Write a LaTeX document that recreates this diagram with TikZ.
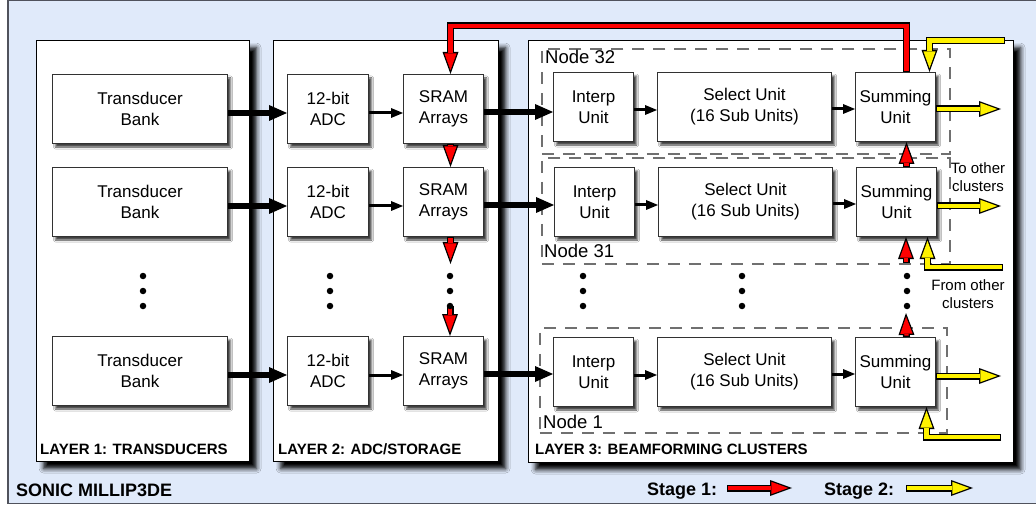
\documentclass[tikz,border=0pt]{standalone}
\usepackage{fontspec}
\setmainfont{Liberation Sans}
\usetikzlibrary{arrows.meta,calc,shadows.blur}
\definecolor{panelbg}{RGB}{224,234,250}
\definecolor{panelline}{RGB}{80,82,92}
\definecolor{boxline}{RGB}{50,50,50}
\definecolor{nodedash}{RGB}{112,112,112}
\tikzset{
  unitbox/.style={draw=boxline, fill=white, line width=1pt, inner sep=0pt, align=center,
    anchor=north west, font=\fontsize{17}{21}\selectfont,
    blur shadow={shadow xshift=3pt, shadow yshift=-3.5pt, shadow blur radius=2pt, shadow opacity=75}},
  layerbox/.style={draw=black, fill=white, line width=1.2pt, inner sep=0pt, anchor=north west,
    blur shadow={shadow xshift=7pt, shadow yshift=-7pt, shadow blur radius=4.5pt, shadow opacity=100}},
  nodeframe/.style={draw=nodedash, line width=1.6pt, dash pattern=on 12pt off 9pt,
    inner sep=0pt, anchor=north west},
  layerlabel/.style={font=\fontsize{15}{17}\selectfont\bfseries, anchor=base west, inner sep=0pt},
  nodelabel/.style={font=\fontsize{18.5}{21}\selectfont, anchor=base west, inner sep=0pt},
  sidenote/.style={font=\fontsize{15}{18}\selectfont, align=center, inner sep=0pt},
  titlelabel/.style={font=\fontsize{18}{21}\selectfont\bfseries, anchor=base west, inner sep=0pt},
  ellipsisdot/.style={circle, fill=black, inner sep=0pt, minimum size=6.5pt},
  busarrow/.style={line width=6pt, -{Triangle[length=18pt,width=16pt,line width=0pt]}},
  linkarrow/.style={line width=3pt, -{Triangle[length=12pt,width=10pt,line width=0pt]}},
  fatarrow/.style={
    preaction={draw=black, line width=7pt, shorten >=0pt, shorten <=0pt,
      -{Triangle[length=22pt,width=16pt,line width=0pt]}},
    draw=#1, line width=4.4pt, shorten >=3.8pt, shorten <=1.3pt,
    -{Triangle[length=16.9pt,width=12.3pt,line width=0pt]}},
}
\begin{document}
\begin{tikzpicture}[x=1pt,y=-1pt]
\useasboundingbox (0,0) rectangle (1036,505);
\fill[white] (0,0) rectangle (1036,505);
\draw[panelline, fill=panelbg, line width=1.2pt] (8,0.6) rectangle (1042,503.4);

% the three layers
\node[layerbox, minimum width=213, minimum height=421] (layer1) at (36,40) {};
\node[layerbox, minimum width=225, minimum height=421] (layer2) at (273,40) {};
\node[layerbox, minimum width=485, minimum height=422] (layer3) at (528,40) {};

% dashed node frames of layer 3
\node[nodeframe, minimum width=408, minimum height=105.5] (n32) at (541,48) {};
\node[nodeframe, minimum width=408, minimum height=105.5] (n31) at (541,157.5) {};
\node[nodeframe, minimum width=407, minimum height=105] (n1) at (539,327) {};

% layer 1: transducers
\node[unitbox, minimum width=175, minimum height=69] (tb1) at (52,74) {Transducer\\Bank};
\node[unitbox, minimum width=175, minimum height=69] (tb2) at (52,167) {Transducer\\Bank};
\node[unitbox, minimum width=175, minimum height=69] (tb3) at (52,336) {Transducer\\Bank};

% layer 2: converters and storage
\node[unitbox, minimum width=81, minimum height=69] (adc1) at (287,74) {12-bit\\ADC};
\node[unitbox, minimum width=81, minimum height=69] (adc2) at (287,167) {12-bit\\ADC};
\node[unitbox, minimum width=81, minimum height=69] (adc3) at (287,336) {12-bit\\ADC};
\node[unitbox, minimum width=80, minimum height=69] (sram1) at (403,74) {SRAM\\Arrays};
\node[unitbox, minimum width=80, minimum height=69] (sram2) at (403,167) {SRAM\\Arrays};
\node[unitbox, minimum width=80, minimum height=69] (sram3) at (403,336) {SRAM\\Arrays};

% layer 3: beamforming nodes
\node[unitbox, minimum width=80, minimum height=69] (int1) at (553,72) {Interp\\Unit};
\node[unitbox, minimum width=80, minimum height=69] (int2) at (554,167) {Interp\\Unit};
\node[unitbox, minimum width=80, minimum height=69] (int3) at (553,337) {Interp\\Unit};
\node[unitbox, minimum width=174, minimum height=69] (sel1) at (657,72) {Select Unit\\(16 Sub Units)};
\node[unitbox, minimum width=174, minimum height=69] (sel2) at (658,167) {Select Unit\\(16 Sub Units)};
\node[unitbox, minimum width=174, minimum height=69] (sel3) at (657,337) {Select Unit\\(16 Sub Units)};
\node[unitbox, minimum width=80, minimum height=69] (sum1) at (855,72) {Summing\\Unit};
\node[unitbox, minimum width=80, minimum height=69] (sum2) at (856,167) {Summing\\Unit};
\node[unitbox, minimum width=80, minimum height=69] (sum3) at (855,337) {Summing\\Unit};

% data path arrows
\foreach \r in {1,2,3}{
  \draw[busarrow] ([yshift=-4pt]tb\r.east) -- ([yshift=-4pt]adc\r.west);
  \draw[linkarrow] ([yshift=-4pt]adc\r.east) -- ([yshift=-4pt]sram\r.west);
  \draw[busarrow] ([yshift=-3pt]sram\r.east) -- ([yshift=-3pt]sram\r.east -| int\r.west);
  \draw[linkarrow] ([yshift=-3pt]int\r.east) -- ([yshift=-3pt]int\r.east -| sel\r.west);
  \draw[linkarrow] ([yshift=-2pt]sel\r.east) -- ([yshift=-2pt]sel\r.east -| sum\r.west);
}

% stage 1: partial sums travel up the nodes and back to the SRAM arrays
\coordinate (rx) at ($(sum1.north)+(11,0)$);
\coordinate (rt) at ($(sram1.north)+(7,0)$);
\coordinate (srdown) at ($(sram2.south -| rt)+(0,27)$);
\coordinate (srup) at (450,306);
\coordinate (sumup31) at (906,263);
\coordinate (sumup1) at (906,313);
\draw[fatarrow=red] (sum1.north -| rx) -- ++(0,-46) -| (rt);
\draw[fatarrow=red] (sram1.south -| rt) -- (sram2.north -| rt);
\draw[fatarrow=red] (sram2.south -| rt) -- (srdown);
\draw[fatarrow=red] (srup) -- (sram3.north -| srup);
\draw[fatarrow=red] (sum2.north -| rx) -- (sum1.south -| rx);
\draw[fatarrow=red] (sumup31) -- (sum2.south -| sumup31);
\draw[fatarrow=red] (sum3.north -| rx) -- (sumup1);

% stage 2: sums exchanged with the other clusters
\coordinate (yin1) at (1005,40.5);
\coordinate (yx1) at ($(sum1.north)+(34,0)$);
\coordinate (yin2) at (1003,267);
\coordinate (yx2) at ($(sum2.south)+(31,0)$);
\coordinate (yin3) at (1001,437);
\coordinate (yx3) at ($(sum3.south)+(31,0)$);
\coordinate (yout1) at (1001,109);
\coordinate (yout2) at (1001,206);
\coordinate (yout3) at (1001,376);
\draw[fatarrow=yellow] (yin1) -| (sum1.north -| yx1);
\draw[fatarrow=yellow] (yin2) -| (yx2);
\draw[fatarrow=yellow] (yin3) -| (yx3);
\draw[fatarrow=yellow] (sum1.east |- yout1) -- (yout1);
\draw[fatarrow=yellow] (sum2.east |- yout2) -- (yout2);
\draw[fatarrow=yellow] (sum3.east |- yout3) -- (yout3);

% vertical ellipses
\foreach \cx/\nm in {143/a,330/b,450/c,583/d,742/e,907/f}{
  \foreach \cy/\k in {276/1,291/2,306/3}{
    \node[ellipsisdot] (dot\nm\k) at (\cx,\cy) {};
  }
}

% labels
\node[nodelabel] (lab32) at (545,64) {Node 32};
\node[nodelabel] (lab31) at (544,258) {Node 31};
\node[nodelabel] (lab1) at (543,428) {Node 1};
\node[sidenote] (toother) at (978,177) {To other\\clusters};
\node[sidenote] (fromother) at (968,294) {From other\\clusters};
\node[layerlabel] (lay1) at (40,454) {LAYER 1: TRANSDUCERS};
\node[layerlabel] (lay2) at (278,454) {LAYER 2: ADC/STORAGE};
\node[layerlabel] (lay3) at (535,454) {LAYER 3: BEAMFORMING CLUSTERS};
\node[titlelabel] (title) at (16,496) {SONIC MILLIP3DE};

% legend
\node[titlelabel] (stage1) at (647,495) {Stage 1:};
\node[titlelabel] (stage2) at (824,495) {Stage 2:};
\coordinate (s1a) at (727,488);
\coordinate (s1b) at (792,488);
\coordinate (s2a) at (906,488);
\coordinate (s2b) at (973,488);
\draw[fatarrow=red] (s1a) -- (s1b);
\draw[fatarrow=yellow] (s2a) -- (s2b);
\end{tikzpicture}
\end{document}
